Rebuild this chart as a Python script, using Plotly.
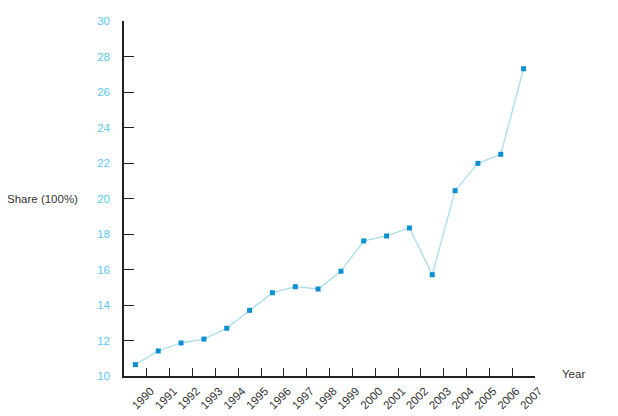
import plotly.graph_objects as go

years = [1990, 1991, 1992, 1993, 1994, 1995, 1996, 1997, 1998, 1999,
         2000, 2001, 2002, 2003, 2004, 2005, 2006, 2007]
share = [10.64, 11.41, 11.86, 12.08, 12.69, 13.70, 14.69, 15.03, 14.90, 15.90,
         17.61, 17.89, 18.34, 15.71, 20.44, 21.98, 22.49, 27.31]
y_ticks = [10, 12, 14, 16, 18, 20, 22, 24, 26, 28, 30]

# each year occupies a band; the point sits mid-band, the tick/label at the band's end
x_pos = [y - 0.5 for y in years]

fig = go.Figure()
fig.add_trace(go.Scatter(
    x=x_pos, y=share, mode="lines+markers",
    line=dict(color="#a9dde9", width=1.3),
    marker=dict(symbol="square", size=5, color="#0a8fd0"),
    showlegend=False, hoverinfo="x+y",
))

font = "Liberation Sans, Arial, Helvetica, sans-serif"
fig.update_layout(
    width=610, height=408,
    margin=dict(l=116, r=83, t=13, b=40),
    plot_bgcolor="white", paper_bgcolor="white",
    font=dict(family=font, size=11.5, color="#333333"),
    xaxis=dict(
        range=[years[0] - 1, years[-1]],
        tickvals=years, ticktext=[str(y) for y in years],
        tickangle=-45, ticks="inside", ticklen=8, tickcolor="#222222", tickwidth=1.3,
        showline=True, linecolor="#222222", linewidth=1.5,
        showgrid=False, zeroline=False, automargin=False,
        tickfont=dict(size=11.5, color="#333333"),
        ticklabelshift=4, ticklabelstandoff=2,
    ),
    yaxis=dict(
        range=[10, 30],
        tickvals=y_ticks,
        ticks="inside", ticklen=10, tickcolor="#222222", tickwidth=1.3,
        showline=True, linecolor="#222222", linewidth=1.5,
        showgrid=False, zeroline=False, automargin=False,
        tickfont=dict(size=11.5, color="#5bc8f5"),
        ticklabelstandoff=10,
    ),
    annotations=[
        dict(text="Share (100%)", xref="paper", yref="y", x=-0.29, y=20,
             xanchor="left", yanchor="middle", showarrow=False,
             font=dict(size=11.5, color="#333333")),
        dict(text="Year", xref="paper", yref="paper", x=1.062, y=0.005,
             xanchor="left", yanchor="middle", showarrow=False,
             font=dict(size=11.5, color="#333333")),
    ],
)

fig.write_html("out.html")
